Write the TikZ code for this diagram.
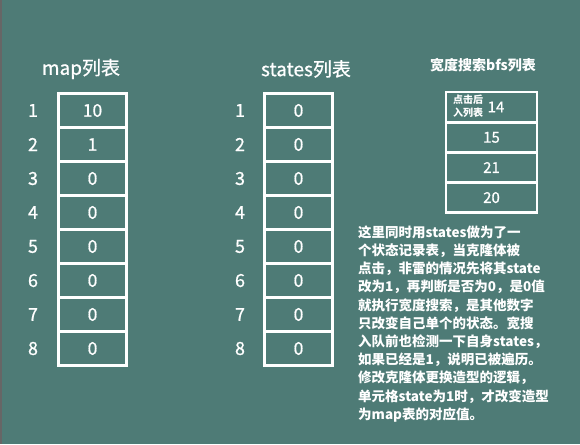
\documentclass[tikz,border=0pt]{standalone}
\usepackage{fontspec}
\setmainfont{Noto Sans CJK SC}
\newfontfamily\medfont[FakeBold=0.8]{Noto Sans CJK SC}
\definecolor{bgteal}{RGB}{78,123,118}
\begin{document}
\begin{tikzpicture}[x=1pt,y=-1pt,
  cell/.style={draw=white,line width=2.8pt,minimum width=68pt,minimum height=34pt,inner sep=0pt,text=white,font=\medfont\fontsize{17.5}{17.5}\selectfont},
  bfscell/.style={draw=white,line width=2.4pt,minimum width=90.5pt,minimum height=30.1pt,inner sep=0pt,text=white,font=\medfont\fontsize{15}{15}\selectfont},
  idx/.style={text=white,font=\medfont\fontsize{18}{18}\selectfont},
  title/.style={text=white,font=\medfont\fontsize{19}{19}\selectfont}]
				\fill[bgteal] (0,0) rectangle (580,444);
				\fill[black!60] (0,0) rectangle (1.5,444);
				\useasboundingbox (0,0) rectangle (580,444);
				\node[title] (maptitle) at (81,69) {map列表};
				\node[title] (statestitle) at (306,69) {states列表};
				\node[text=white,font=\bfseries\fontsize{14}{14}\selectfont] (bfstitle) at (483,65) {宽度搜索bfs列表};
				\node[cell] (m1) at (92.5,110.5) {10};
				\node[cell] (m2) at (92.5,144.5) {1};
				\node[cell] (m3) at (92.5,178.5) {0};
				\node[cell] (m4) at (92.5,212.5) {0};
				\node[cell] (m5) at (92.5,246.5) {0};
				\node[cell] (m6) at (92.5,280.5) {0};
				\node[cell] (m7) at (92.5,314.5) {0};
				\node[cell] (m8) at (92.5,348.5) {0};
				\node[idx] (mi1) at (33,110.5) {1};
				\node[idx] (mi2) at (33,144.5) {2};
				\node[idx] (mi3) at (33,178.5) {3};
				\node[idx] (mi4) at (33,212.5) {4};
				\node[idx] (mi5) at (33,246.5) {5};
				\node[idx] (mi6) at (33,280.5) {6};
				\node[idx] (mi7) at (33,314.5) {7};
				\node[idx] (mi8) at (33,348.5) {8};
				\node[cell] (s1) at (298.5,110.5) {0};
				\node[cell] (s2) at (298.5,144.5) {0};
				\node[cell] (s3) at (298.5,178.5) {0};
				\node[cell] (s4) at (298.5,212.5) {0};
				\node[cell] (s5) at (298.5,246.5) {0};
				\node[cell] (s6) at (298.5,280.5) {0};
				\node[cell] (s7) at (298.5,314.5) {0};
				\node[cell] (s8) at (298.5,348.5) {0};
				\node[idx] (si1) at (240,110.5) {1};
				\node[idx] (si2) at (240,144.5) {2};
				\node[idx] (si3) at (240,178.5) {3};
				\node[idx] (si4) at (240,212.5) {4};
				\node[idx] (si5) at (240,246.5) {5};
				\node[idx] (si6) at (240,280.5) {6};
				\node[idx] (si7) at (240,314.5) {7};
				\node[idx] (si8) at (240,348.5) {8};
				\node[bfscell] (b1) at (491.5,107.3) {};
				\node[text=white,font=\medfont\fontsize{15}{15}\selectfont] (b1val) at (496,107) {14};
				\node[text=white,align=left,inner sep=0pt,font=\bfseries\fontsize{10}{13}\selectfont] (b1note) at (468,106) {点击后\\入列表};
				\node[bfscell] (b2) at (491.5,137.4) {15};
				\node[bfscell] (b3) at (491.5,167.5) {21};
				\node[bfscell] (b4) at (491.5,197.6) {20};
				\node[text=white,align=left,anchor=north west,inner sep=0pt,font=\bfseries\fontsize{13.5}{18.2}\selectfont] (note) at (358,225.5) {这里同时用states做为了一\\个状态记录表，当克隆体被\\点击，非雷的情况先将其state\\改为1，再判断是否为0，是0值\\就执行宽度搜索，是其他数字\\只改变自己单个的状态。宽搜\\入队前也检测一下自身states，\\如果已经是1，说明已被遍历。\\修改克隆体更换造型的逻辑，\\单元格state为1时，才改变造型\\为map表的对应值。};
			\end{tikzpicture}
\end{document}
